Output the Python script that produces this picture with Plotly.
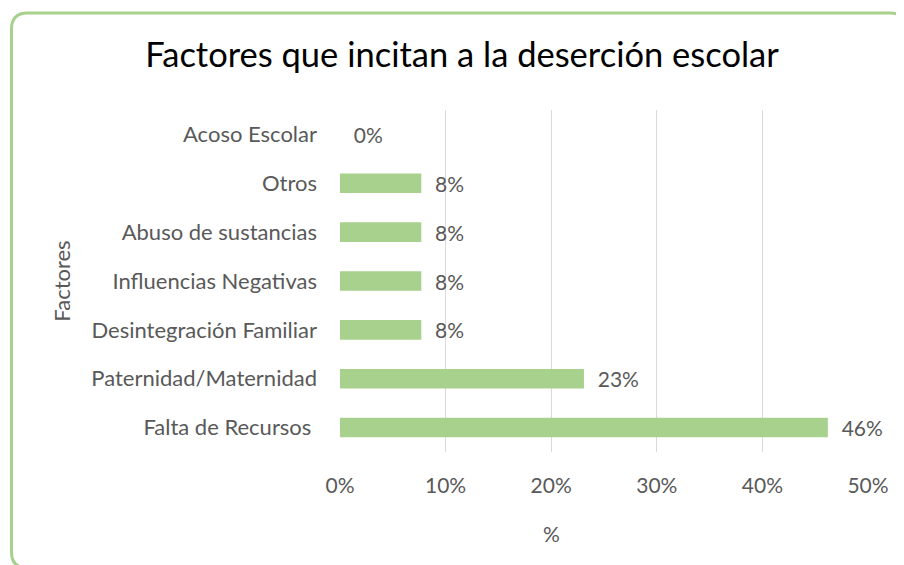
import plotly.graph_objects as go

factores = ["Falta de Recursos ", "Paternidad/Maternidad", "Desintegración Familiar",
            "Influencias Negativas", "Abuso de sustancias", "Otros", "Acoso Escolar"]
porcentajes = [46.2, 23.1, 7.7, 7.7, 7.7, 7.7, 0.0]
ticks = [0, 10, 20, 30, 40, 50]
tick_text = ["0%", "10%", "20%", "30%", "40%", "50%"]

# page body has an 8px margin, so the figure is shifted by it
OFF = 8
W, H = 904 - OFF, 565 - OFF
L, R, T, B = 340 - OFF, 36, 110 - OFF, 113
pw, ph = W - L - R, H - T - B


def px(x):
    return (x - OFF - L) / pw


def py(y):
    return (H - B - (y - OFF)) / ph


# rounded chart border, in screen pixels
x0, y0, x1, y1, r = 11.5, 13, 906, 568, 16
border = (f"M {px(x0)},{py(y0 + r)} Q {px(x0)},{py(y0)} {px(x0 + r)},{py(y0)} "
          f"L {px(x1 - r)},{py(y0)} Q {px(x1)},{py(y0)} {px(x1)},{py(y0 + r)} "
          f"L {px(x1)},{py(y1 - r)} Q {px(x1)},{py(y1)} {px(x1 - r)},{py(y1)} "
          f"L {px(x0 + r)},{py(y1)} Q {px(x0)},{py(y1)} {px(x0)},{py(y1 - r)} Z")

font = "Lato, 'Open Sans', sans-serif"
grey = "#595959"

fig = go.Figure(go.Bar(
    x=porcentajes, y=factores, orientation="h",
    marker=dict(color="#A9D18E", line=dict(width=0)), width=0.4,
    texttemplate="  %{x:.0f}%", textposition="outside",
    constraintext="none",
    outsidetextfont=dict(size=21, color=grey, family=font),
    cliponaxis=False,
))

fig.update_layout(
    width=W, height=H,
    margin=dict(l=L, r=R, t=T, b=B, autoexpand=False),
    paper_bgcolor="white", plot_bgcolor="white",
    title=dict(text="Factores que incitan a la deserción escolar",
               x=(462 - OFF) / W, xanchor="center",
               y=1 - (55 - OFF) / H, yanchor="middle",
               font=dict(size=34.5, color="black", family=font)),
    xaxis=dict(range=[0, 50], tickvals=ticks, ticktext=tick_text,
               showgrid=True, gridcolor="#D9D9D9", gridwidth=1.3,
               zeroline=False, showline=False, automargin=False,
               tickfont=dict(size=21, color=grey, family=font),
               ticklabelstandoff=19),
    yaxis=dict(range=[-0.5, 6.5], showgrid=False, zeroline=False,
               automargin=False,
               tickfont=dict(size=22, color=grey, family=font),
               ticklabelstandoff=22,
               title=dict(text="Factores", standoff=14,
                          font=dict(size=22, color=grey, family=font))),
    showlegend=False,
    annotations=[dict(text="%", xref="paper", yref="paper",
                      x=px(551), y=py(533), xanchor="center", yanchor="middle",
                      showarrow=False,
                      font=dict(size=21, color=grey, family=font))],
    shapes=[dict(type="path", xref="paper", yref="paper", path=border,
                 line=dict(color="#A9D18E", width=3), layer="below")],
)

fig.write_html("out.html")
